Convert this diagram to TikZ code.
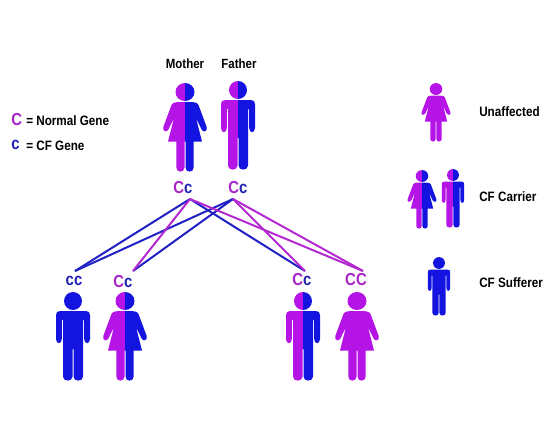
\documentclass[tikz,border=0pt]{standalone}
\usepackage{fontspec}
\setmainfont[FakeStretch=0.86]{Liberation Sans}
\definecolor{mag}{HTML}{B414E6}
\definecolor{blu}{HTML}{1414E0}
\definecolor{lmag}{HTML}{B428D2}
\definecolor{lblu}{HTML}{2020C4}
\definecolor{tmag}{HTML}{A824C8}
\definecolor{tblu}{HTML}{2020B4}
\newcommand{\womanpath}{
  (0,0) circle[x radius=9.5,y radius=9]
  (-8,10.2) -- (8,10.2) .. controls (11,10.2) and (12.5,11) .. (13.5,13)
  -- (21.7,35) .. controls (23,39.5) and (18,41) .. (16.6,37.5)
  -- (11,26) -- (17,49.5) -- (8.7,49.5) -- (8.7,75.5)
  .. controls (8.7,81) and (0.5,81) .. (0.5,75.5) -- (0.5,49.5) -- (-0.5,49.5) -- (-0.5,75.5)
  .. controls (-0.5,81) and (-8.7,81) .. (-8.7,75.5) -- (-8.7,49.5) -- (-17,49.5) -- (-11,26)
  -- (-16.6,37.5) .. controls (-18,41) and (-23,39.5) .. (-21.7,35)
  -- (-13.5,13) .. controls (-12.5,11) and (-11,10.2) .. (-8,10.2) -- cycle
}
\newcommand{\manpath}{
  (0,0) circle[x radius=9,y radius=9]
  (-13,10) -- (13,10) .. controls (15.5,10) and (17,11.5) .. (17,14)
  -- (17,38) .. controls (17,43.5) and (11.2,43.5) .. (11.2,38) -- (11.2,19) -- (10,19) -- (10,75.5)
  .. controls (10,81) and (0.5,81) .. (0.5,75.5) -- (0.5,48) -- (-0.5,48) -- (-0.5,75.5)
  .. controls (-0.5,81) and (-10,81) .. (-10,75.5) -- (-10,19) -- (-11.2,19) -- (-11.2,38)
  .. controls (-11.2,43.5) and (-17,43.5) .. (-17,38) -- (-17,14)
  .. controls (-17,11.5) and (-15.5,10) .. (-13,10) -- cycle
}
\tikzset{
  pics/womanfig/.style n args={2}{code={
    \begin{scope}\clip (-30,-12) rectangle (0,85); \fill[#1] \womanpath; \end{scope}
    \begin{scope}\clip (0,-12) rectangle (30,85); \fill[#2] \womanpath; \end{scope}
  }},
  pics/manfig/.style n args={2}{code={
    \begin{scope}\clip (-30,-12) rectangle (0,85); \fill[#1] \manpath; \end{scope}
    \begin{scope}\clip (0,-12) rectangle (30,85); \fill[#2] \manpath; \end{scope}
  }},
  bluelink/.style={draw=lblu,line width=1.5pt},
  maglink/.style={draw=lmag,line width=1.5pt},
  caption/.style={font=\fontsize{10}{12}\selectfont\bfseries,text=black,inner sep=0pt},
  genes/.style={font=\fontsize{13}{15}\selectfont\bfseries,inner sep=0pt},
  legendtext/.style={font=\fontsize{10.2}{12}\selectfont\bfseries,text=black,inner sep=0pt,anchor=west}
}
\newcommand{\bigC}{\textcolor{tmag}{C}}
\newcommand{\smallc}{\textcolor{tblu}{c}}
\begin{document}
\begin{tikzpicture}[x=0.75pt,y=-0.75pt]
\useasboundingbox (0,0) rectangle (550,443);
% parents
\pic at (185,92) {womanfig={mag}{blu}};
\pic at (238,90) {manfig={mag}{blu}};
\node[caption] (mother) at (185,64) {Mother};
\node[caption] (father) at (239,64) {Father};
\node[genes] (gm) at (183,188) {\bigC\smallc};
\node[genes] (gf) at (238,188) {\bigC\smallc};
\coordinate (pm) at (190,199);
\coordinate (pf) at (233,199);
% children
\pic at (73,301) {manfig={blu}{blu}};
\pic at (125,301) {womanfig={mag}{blu}};
\pic at (303,301) {manfig={mag}{blu}};
\pic at (357,301) {womanfig={mag}{mag}};
\node[genes] (g1) at (74,281) {\smallc\smallc};
\node[genes] (g2) at (123,282) {\bigC\smallc};
\node[genes] (g3) at (302,280) {\bigC\smallc};
\node[genes] (g4) at (356,280) {\bigC\bigC};
\coordinate (c1) at (75,271);
\coordinate (c2) at (133,271);
\coordinate (c3) at (305,271);
\coordinate (c4) at (363,271);
% connectors
\draw[bluelink] (pm) -- (c1);
\draw[bluelink] (pf) -- (c1);
\draw[bluelink] (pf) -- (c2);
\draw[bluelink] (pm) -- (c3);
\draw[maglink] (pm) -- (c2);
\draw[maglink] (pf) -- (c3);
\draw[maglink] (pm) -- (c4);
\draw[maglink] (pf) -- (c4);
% gene key
\node[inner sep=0pt,anchor=west,font=\fontsize{13}{15}\selectfont\bfseries] (k1) at (11,120) {\bigC};
\node[legendtext] (k1t) at (26,121) {= Normal Gene};
\node[inner sep=0pt,anchor=west,font=\fontsize{13}{15}\selectfont\bfseries] (k2) at (11,145) {\smallc};
\node[legendtext] (k2t) at (26,146) {= CF Gene};
% legend
\pic[scale=0.66] at (436,89) {womanfig={mag}{mag}};
\pic[scale=0.66] at (422,176) {womanfig={mag}{blu}};
\pic[scale=0.66] at (453,175) {manfig={mag}{blu}};
\pic[scale=0.66] at (439,263) {manfig={blu}{blu}};
\node[legendtext] (l1) at (479,112) {Unaffected};
\node[legendtext] (l2) at (479,197) {CF Carrier};
\node[legendtext] (l3) at (479,283) {CF Sufferer};
\end{tikzpicture}
\end{document}
